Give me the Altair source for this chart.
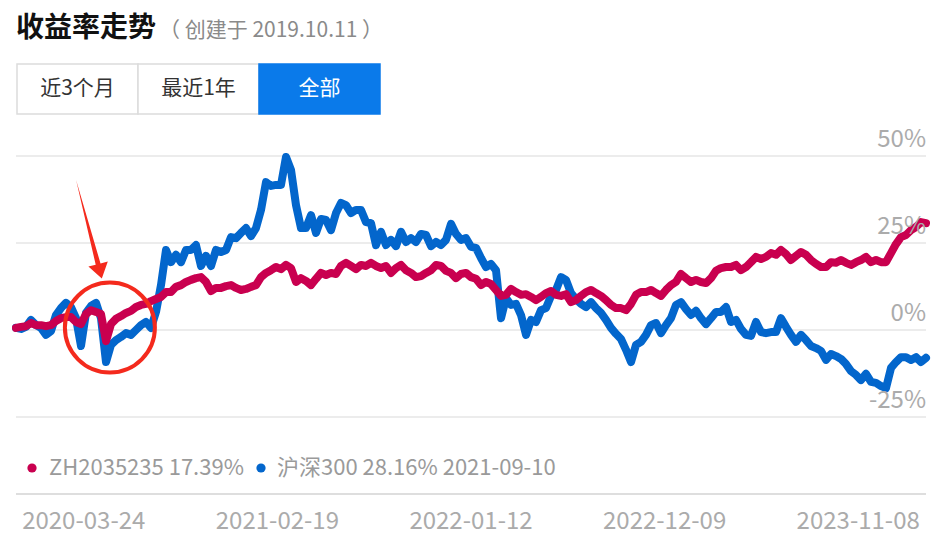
import altair as alt
import pandas as pd

# ---------------- data ----------------
START = "2019-10-11"
STEP = "9D"

series_names = ["ZH2035235", "沪深300"]
series_colors = ["#C9004F", "#0366CC"]

portfolio = [
    0.6, 0.9, 1.1, 2.0, 1.4, 1.4, 1.1, 1.4, 2.6, 3.4,
    3.7, 3.7, 2.3, 1.7, 4.6, 5.7, 5.2, 4.6, -3.2, 1.7,
    3.2, 4.0, 4.9, 5.5, 6.6, 7.2, 7.5, 8.3, 8.9, 9.5,
    10.9, 10.9, 12.4, 12.9, 13.8, 14.4, 14.9, 15.2, 13.8, 11.2,
    12.1, 12.1, 12.6, 12.9, 12.1, 11.5, 11.8, 12.4, 12.9, 15.2,
    16.4, 17.2, 18.1, 17.5, 18.7, 17.8, 13.8, 14.9, 14.1, 12.9,
    14.7, 16.4, 15.8, 16.4, 16.1, 18.4, 19.3, 18.4, 17.5, 18.7,
    18.4, 19.3, 18.4, 17.8, 18.4, 16.4, 17.8, 18.7, 17.2, 16.4,
    15.2, 15.5, 16.4, 17.2, 18.7, 18.4, 17.0, 16.4, 14.9, 16.1,
    16.4, 15.2, 14.7, 12.9, 13.8, 13.2, 11.5, 9.8, 10.1, 11.8,
    10.9, 10.1, 10.3, 9.5, 8.6, 9.5, 10.6, 11.2, 10.1, 9.8,
    10.3, 8.0, 8.6, 9.8, 10.9, 11.5, 10.6, 9.8, 8.6, 7.2,
    6.3, 6.3, 5.7, 7.5, 10.1, 10.9, 10.9, 11.5, 10.6, 9.8,
    11.5, 12.9, 13.8, 16.1, 14.9, 13.8, 14.4, 13.8, 13.5, 14.9,
    17.0, 17.8, 18.1, 18.1, 18.7, 17.2, 18.1, 19.5, 21.0, 20.4,
    21.0, 22.1, 21.6, 23.0, 21.8, 20.1, 21.3, 22.4, 21.6, 20.1,
    19.0, 18.1, 18.1, 19.5, 19.3, 20.1, 19.3, 18.7, 19.5, 20.1,
    21.0, 19.5, 20.1, 19.5, 19.5, 22.1, 24.7, 26.7, 27.3, 28.7,
    29.6, 31.0, 30.7,
]

hs300 = [
    0.6, 0.3, 0.9, 2.9, 1.4, 0.6, -1.4, -0.3, 4.3, 6.3,
    7.8, 6.6, 3.4, -4.6, 4.9, 6.9, 7.8, 3.4, -9.2, -4.3,
    -2.9, -2.0, -0.9, -1.4, 0.0, 1.4, 2.3, 0.6, 5.2, 12.9,
    23.0, 19.5, 21.6, 19.5, 23.0, 23.0, 24.4, 18.4, 21.3, 18.4,
    23.0, 22.4, 23.0, 26.7, 26.4, 27.9, 29.3, 27.0, 29.3, 34.5,
    42.5, 41.4, 41.7, 41.7, 49.7, 46.0, 35.9, 29.3, 29.3, 33.0,
    27.9, 31.9, 31.6, 28.7, 33.6, 36.5, 35.9, 33.6, 34.5, 34.5,
    31.0, 30.7, 24.4, 28.2, 24.4, 25.9, 24.1, 28.2, 25.3, 26.4,
    25.3, 27.6, 27.3, 24.1, 25.3, 24.4, 25.9, 30.5, 27.6, 25.9,
    26.4, 23.9, 23.6, 20.7, 18.1, 19.0, 17.2, 3.4, 9.2, 7.2,
    7.5, 4.3, -1.4, 2.9, 2.3, 5.7, 6.3, 9.8, 11.5, 15.2,
    14.4, 10.6, 8.9, 7.5, 6.6, 8.0, 6.3, 4.9, 2.9, 0.6,
    -1.1, -2.6, -5.7, -9.2, -4.3, -3.4, -1.4, 1.4, 2.0, -0.9,
    1.4, 3.4, 7.2, 8.0, 6.0, 4.3, 5.5, 3.4, 1.7, 3.4,
    5.2, 5.2, 6.6, 2.3, 2.9, 0.3, -1.4, -1.7, 2.3, -0.6,
    -0.9, -0.6, -0.6, 3.4, 0.9, -1.4, -3.4, -1.4, -2.9, -4.6,
    -5.2, -6.0, -8.6, -6.9, -7.5, -8.3, -9.8, -11.8, -12.9, -14.4,
    -12.6, -14.9, -15.2, -16.1, -16.7, -10.9, -9.2, -7.8, -7.8, -8.6,
    -7.8, -9.2, -8.0,
]

y_ticks = [-25, 0, 25, 50]
x_labels = ["2020-03-24", "2021-02-19", "2022-01-12", "2022-12-09", "2023-11-08"]
legend_texts = ["ZH2035235 17.39%", "沪深300 28.16% 2021-09-10"]
buttons = ["近3个月", "最近1年", "全部"]
title_text = "收益率走势"
subtitle_text = "（ 创建于 2019.10.11 ）"

# annotation: circled dip and arrow (data coordinates)
circle_at = {"date": "2020-03-28", "value": 0.7}
arrow_at = {"date": "2020-02-25", "value": 29.0}

# ---------------- layout ----------------
W, H = 910, 540
PX_PER_PCT = 87 / 25
Y_TOP = 50 + 156 / PX_PER_PCT
Y_BOT = Y_TOP - H / PX_PER_PCT
FONT = "Noto Sans CJK SC"

dates = pd.date_range(START, periods=len(portfolio), freq=STEP)
df_p = pd.DataFrame({"date": dates, "value": portfolio, "series": series_names[0]})
df_h = pd.DataFrame({"date": dates, "value": hs300, "series": series_names[1]})
df_ticks = pd.DataFrame({"tick": y_ticks})

x_scale = alt.Scale(domain=[dates[0].isoformat(), dates[-1].isoformat()])
y_scale = alt.Scale(domain=[Y_BOT, Y_TOP], nice=False, zero=False)

# horizontal gridlines and their labels (drawn through the y scale)
grid = alt.Chart(df_ticks).mark_rule(color="#ececec", strokeWidth=2).encode(
    y=alt.Y("tick:Q", scale=y_scale, axis=None),
    x=alt.value(0), x2=alt.value(W),
)
grid_labels = alt.Chart(df_ticks).transform_calculate(
    txt="datum.tick + '%'"
).mark_text(
    align="right", baseline="alphabetic", dy=-9, fontSize=24,
    color="#ababab", font=FONT
).encode(
    y=alt.Y("tick:Q", scale=y_scale, axis=None),
    x=alt.value(W), text="txt:N",
)


def line_layer(df, color):
    return alt.Chart(df).mark_line(
        color=color, strokeWidth=8, strokeCap="round", strokeJoin="round"
    ).encode(
        x=alt.X("date:T", scale=x_scale, axis=None),
        y=alt.Y("value:Q", scale=y_scale, axis=None),
    )


blue = line_layer(df_h, series_colors[1])
red = line_layer(df_p, series_colors[0])

ANN = "#F42A1D"
circle = alt.Chart(pd.DataFrame([circle_at])).mark_point(
    shape="circle", filled=False, size=8100, strokeWidth=4, color=ANN, opacity=1
).encode(x=alt.X("date:T", scale=x_scale, axis=None),
         y=alt.Y("value:Q", scale=y_scale, axis=None))

arrow_path = ("M-0.32,-0.98 L0.168,0.688 L0.314,0.65 L0.194,0.99 "
              "L-0.074,0.75 L0.072,0.712 Z")
arrow = alt.Chart(pd.DataFrame([arrow_at])).mark_point(
    shape=arrow_path, filled=True, size=10000, color=ANN, opacity=1, strokeWidth=0
).encode(x=alt.X("date:T", scale=x_scale, axis=None),
         y=alt.Y("value:Q", scale=y_scale, axis=None))

data_group = alt.layer(grid, blue, red, grid_labels, circle, arrow)

# x labels spread evenly along the bottom
xlab = alt.Chart(pd.DataFrame({"label": x_labels})).mark_text(
    fontSize=24, color="#ababab", font=FONT, baseline="middle", align="center"
).encode(
    x=alt.X("label:N", sort=None, axis=None,
            scale=alt.Scale(type="point", padding=0.35)),
    y=alt.value(522),
    text="label:N",
)

separator = alt.Chart(pd.DataFrame({"k": [0]})).mark_rule(
    color="#dedede", strokeWidth=2
).encode(x=alt.value(0), x2=alt.value(W), y=alt.value(494))

# legend
leg_df = pd.DataFrame({"t": [0]})
leg_layers = []
for txt, col, dx, tx in zip(legend_texts, series_colors, [16, 245], [33, 261]):
    leg_layers.append(alt.Chart(leg_df).mark_point(
        shape="circle", filled=True, size=85, color=col, opacity=1
    ).encode(x=alt.value(dx), y=alt.value(468)))
    leg_layers.append(alt.Chart(leg_df).mark_text(
        text=txt, fontSize=22, color="#9a9a9a", font=FONT, align="left",
        baseline="middle"
    ).encode(x=alt.value(tx), y=alt.value(468)))

# title
title = alt.Chart(leg_df).mark_text(
    text=title_text, fontSize=28, fontWeight="bold", color="#111111", font=FONT,
    align="left", baseline="middle"
).encode(x=alt.value(0), y=alt.value(29))
subtitle = alt.Chart(leg_df).mark_text(
    text=subtitle_text, fontSize=21, color="#8a8a8a", font=FONT,
    align="left", baseline="middle"
).encode(x=alt.value(143), y=alt.value(31))

# buttons
btn_layers = []
edges = [1, 122, 243, 364]
for i, b in enumerate(buttons):
    active = i == len(buttons) - 1
    bdf = pd.DataFrame({"label": [b]})
    btn_layers.append(alt.Chart(bdf).mark_rect(
        fill="#0A7AEA" if active else "#ffffff",
        stroke="#0A7AEA" if active else "#dcdcdc", strokeWidth=1.5
    ).encode(x=alt.value(edges[i]), x2=alt.value(edges[i + 1]),
             y=alt.value(64), y2=alt.value(114)))
    btn_layers.append(alt.Chart(bdf).mark_text(
        fontSize=21, font=FONT, color="#ffffff" if active else "#333333",
        align="center", baseline="middle"
    ).encode(x=alt.value((edges[i] + edges[i + 1]) / 2), y=alt.value(89),
             text="label:N"))

chart = alt.layer(
    data_group, xlab, separator, *leg_layers, title, subtitle, *btn_layers
).resolve_scale(x="independent").properties(
    width=W, height=H,
    padding={"left": 16, "top": 0, "right": 25, "bottom": 0},
    autosize=alt.AutoSizeParams(type="none"),
).configure(font=FONT).configure_view(stroke=None)

chart.save("out.html", embed_options={"renderer": "svg", "actions": False})
